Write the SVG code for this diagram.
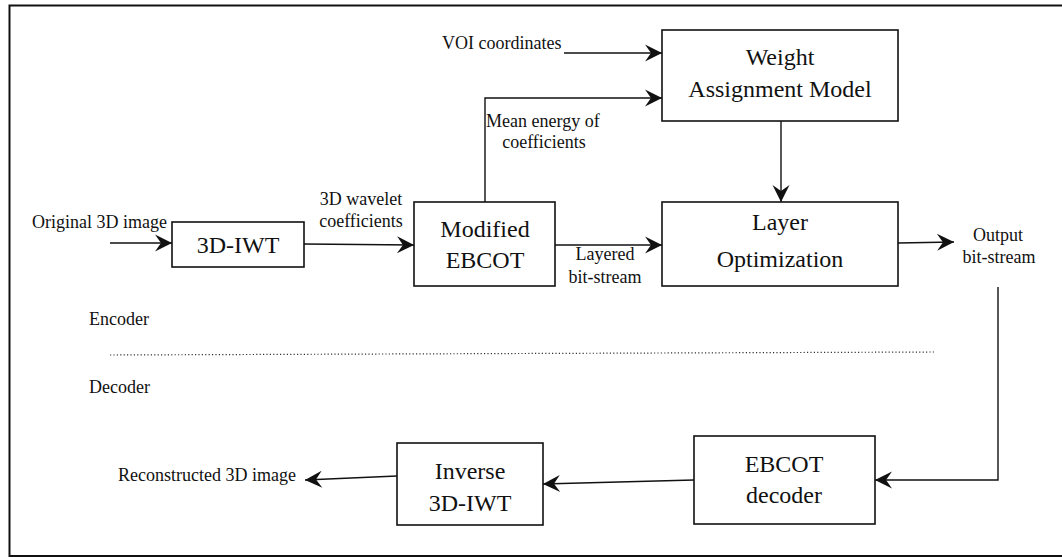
<svg xmlns="http://www.w3.org/2000/svg" width="1062" height="557" viewBox="0 0 1062 557">
<style>
.box{fill:#fff;stroke:#111;stroke-width:1.6}
text{font-family:"Liberation Serif","Times New Roman",serif;fill:#111}
.big{font-size:24px;text-anchor:middle}
.lbl{font-size:18px}
.mid{text-anchor:middle}
.ln{fill:none;stroke:#111;stroke-width:1.4}
</style>
<defs>
<marker id="ah" markerUnits="userSpaceOnUse" viewBox="-18 -10 19 20" refX="0" refY="0" markerWidth="19" markerHeight="20" orient="auto">
<path d="M0,0 L-17,-8.5 L-11,0 L-17,8.5 Z" fill="#111"/>
</marker>
</defs>
<rect width="1062" height="557" fill="#fff"/>
<path d="M1062,5.5 H9.5 V556 H1062" fill="none" stroke="#111" stroke-width="2"/>

<g id="connectors">
<line class="ln" x1="110" y1="243" x2="172" y2="243" stroke-width="2.2" marker-end="url(#ah)"/>
<line class="ln" x1="304" y1="244" x2="414" y2="245" marker-end="url(#ah)"/>
<line class="ln" x1="555" y1="245" x2="662" y2="245" marker-end="url(#ah)"/>
<path class="ln" d="M485,202 V98 H662" marker-end="url(#ah)"/>
<line class="ln" x1="564" y1="53" x2="662" y2="53" marker-end="url(#ah)"/>
<line class="ln" x1="781" y1="121" x2="781" y2="202" marker-end="url(#ah)"/>
<line class="ln" x1="898" y1="243" x2="954" y2="242" marker-end="url(#ah)"/>
<path class="ln" d="M998,287 V480 H875" marker-end="url(#ah)"/>
<line class="ln" x1="694" y1="480" x2="543" y2="484" marker-end="url(#ah)"/>
<line class="ln" x1="397" y1="476" x2="305" y2="480" marker-end="url(#ah)"/>
<line x1="110" y1="355" x2="935" y2="352" stroke="#333" stroke-width="1.2" stroke-dasharray="1.2 2.2"/>
</g>

<g id="n-iwt">
<rect class="box" x="172" y="222" width="132" height="45"/>
<text class="big" x="238" y="253" font-family="Liberation Serif, serif">3D-IWT</text>
</g>
<g id="n-mebcot">
<rect class="box" x="414" y="202" width="141" height="84"/>
<text class="big" x="485" y="237" font-family="Liberation Serif, serif">Modified</text>
<text class="big" x="485" y="268" font-family="Liberation Serif, serif">EBCOT</text>
</g>
<g id="n-wam">
<rect class="box" x="662" y="30" width="236" height="91"/>
<text class="big" x="780" y="65" font-family="Liberation Serif, serif">Weight</text>
<text class="big" x="780" y="97" font-family="Liberation Serif, serif">Assignment Model</text>
</g>
<g id="n-layer">
<rect class="box" x="662" y="202" width="236" height="84"/>
<text class="big" x="780" y="230" font-family="Liberation Serif, serif">Layer</text>
<text class="big" x="780" y="267" font-family="Liberation Serif, serif">Optimization</text>
</g>
<g id="n-ebcotdec">
<rect class="box" x="694" y="436" width="181" height="88"/>
<text class="big" x="784" y="472" font-family="Liberation Serif, serif">EBCOT</text>
<text class="big" x="784" y="503" font-family="Liberation Serif, serif">decoder</text>
</g>
<g id="n-inv">
<rect class="box" x="397" y="443" width="146" height="82"/>
<text class="big" x="470" y="479" font-family="Liberation Serif, serif">Inverse</text>
<text class="big" x="470" y="511" font-family="Liberation Serif, serif">3D-IWT</text>
</g>

<g id="labels">
<text class="lbl" x="32" y="228" font-size="17.5">Original 3D image</text>
<text class="lbl mid" x="361" y="205" font-size="17.5">3D wavelet</text>
<text class="lbl mid" x="361" y="227" font-size="17.5">coefficients</text>
<text class="lbl" x="442" y="49">VOI coordinates</text>
<text class="lbl" x="486" y="127">Mean energy of</text>
<text class="lbl mid" x="544" y="148">coefficients</text>
<text class="lbl mid" x="605" y="260">Layered</text>
<text class="lbl mid" x="605" y="283">bit-stream</text>
<text class="lbl mid" x="998" y="241" font-size="17">Output</text>
<text class="lbl mid" x="999" y="263" font-size="17">bit-stream</text>
<text class="lbl" x="89" y="325">Encoder</text>
<text class="lbl" x="89" y="393">Decoder</text>
<text class="lbl" x="118" y="481" font-size="17.5">Reconstructed 3D image</text>
</g>
</svg>
